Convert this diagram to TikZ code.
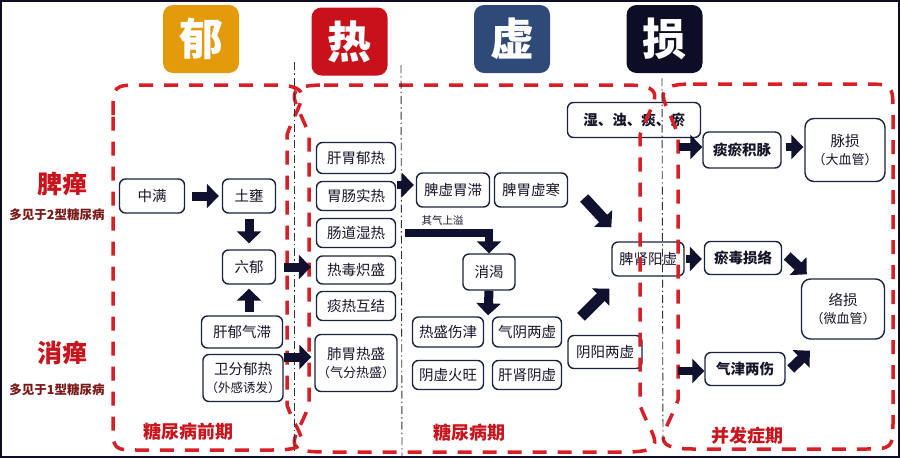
\documentclass[tikz,border=0pt]{standalone}
\usepackage{fontspec}
\setmainfont{Noto Sans CJK SC}
\usepackage{xcolor}
\usepackage{tikz}
\usetikzlibrary{arrows.meta,calc}

\definecolor{yuorange}{HTML}{E39B0C}
\definecolor{rered}{HTML}{C8111A}
\definecolor{xublue}{HTML}{2E4A78}
\definecolor{sunblack}{HTML}{0E0D26}
\definecolor{navy}{HTML}{1B2340}
\definecolor{inkc}{HTML}{16162A}
\definecolor{arrowc}{HTML}{10112E}
\definecolor{dashred}{HTML}{D61F26}
\definecolor{labred}{HTML}{C8141C}
\definecolor{notered}{HTML}{7A1818}

\begin{document}
\begin{tikzpicture}[x=1pt,y=-1pt]
			\tikzstyle{stage} = [rounded corners=10pt, text=white, font=\fontsize{44}{44}\selectfont\bfseries, minimum width=76pt, minimum height=68pt]
			\tikzstyle{state} = [draw=navy, line width=1.4pt, rounded corners=6pt, fill=white, text=inkc, font=\fontsize{14.5}{18}\selectfont, inner sep=3pt, align=center]
			\tikzstyle{bstate} = [state, font=\fontsize{14.5}{18}\selectfont\bfseries]
			\tikzstyle{disease} = [text=labred, font=\fontsize{25}{25}\selectfont\bfseries]
			\tikzstyle{note} = [text=notered, font=\fontsize{12.5}{13}\selectfont\bfseries]
			\tikzstyle{period} = [text=labred, font=\fontsize{18}{18}\selectfont\bfseries]
			\tikzstyle{phase} = [draw=dashred, line width=3.5pt, dash pattern=on 14pt off 11pt]
			\tikzstyle{divider} = [draw=black!80, line width=0.9pt, dash pattern=on 8pt off 3pt on 1.5pt off 3pt]
			\tikzset{edge/.style = {draw=arrowc, line width=9pt, -{Triangle[length=12pt,width=24pt]}}}
			
			\useasboundingbox (0,0) rectangle (900,458);
			\draw[sunblack, line width=2pt] (1,1) rectangle (899,457);
			
			\node[stage, fill=yuorange](yu) at (201,39) {郁};
			\node[stage, fill=rered](re) at (349.5,41.5) {热};
			\node[stage, fill=xublue](xu) at (512,39) {虚};
			\node[stage, fill=sunblack](sun) at (664.5,39) {损};
			
			\node[disease](pidan) at (62,184) {脾瘅};
			\node[note](pidannote) at (57,215) {多见于2型糖尿病};
			\node[disease](xiaodan) at (62,353) {消瘅};
			\node[note](xiaodannote) at (57,390) {多见于1型糖尿病};
			
			% pre-diabetes
			\node[state, minimum width=65pt, minimum height=34pt](zhongman) at (152,196) {中满};
			\node[state, minimum width=53pt, minimum height=34pt](tuyong) at (249,196) {土壅};
			\node[state, minimum width=53pt, minimum height=34pt](liuyu) at (249,267) {六郁};
			\node[state, minimum width=81pt, minimum height=32pt](ganyu) at (242,332) {肝郁气滞};
			\node[state, minimum width=80pt, minimum height=47pt, inner sep=1pt](wfyr) at (243,378) {卫分郁热\\{\fontsize{12.5}{15}\selectfont （外感诱发）}};
			
			% diabetes
			\node[state, minimum width=79pt, minimum height=31pt](gwyr) at (356,158) {肝胃郁热};
			\node[state, minimum width=79pt, minimum height=29pt](wcss) at (356,196) {胃肠实热};
			\node[state, minimum width=79pt, minimum height=29pt](cdsr) at (356,233) {肠道湿热};
			\node[state, minimum width=79pt, minimum height=28pt](rdcs) at (356,270) {热毒炽盛};
			\node[state, minimum width=79pt, minimum height=29pt](trhj) at (356,306) {痰热互结};
			\node[state, minimum width=82pt, minimum height=57pt, inner sep=1pt](fwrs) at (356,363) {肺胃热盛\\{\fontsize{13}{15}\selectfont （气分热盛）}};
			\node[state, minimum width=73pt, minimum height=34pt](pxwz) at (453,190) {脾虚胃滞};
			\node[state, minimum width=73pt, minimum height=34pt](pwxh) at (531,190) {脾胃虚寒};
			\node[state, minimum width=52pt, minimum height=36pt](xiaoke) at (489,272) {消渴};
			\node[state, minimum width=71pt, minimum height=30pt](rssj) at (448,332) {热盛伤津};
			\node[state, minimum width=69pt, minimum height=30pt](qyls) at (527,332) {气阴两虚};
			\node[state, minimum width=71pt, minimum height=29pt](yxhw) at (448,375) {阴虚火旺};
			\node[state, minimum width=69pt, minimum height=29pt](gsyx) at (527,375) {肝肾阴虚};
			\node[state, minimum width=74pt, minimum height=33pt](yyls) at (605,352) {阴阳两虚};
			\node[state, minimum width=72pt, minimum height=34pt](psyx) at (648,259) {脾肾阳虚};
			\node[bstate, minimum width=133pt, minimum height=35pt](szty) at (634,120) {湿、浊、痰、瘀};
			
			% complications
			\node[bstate, minimum width=78pt, minimum height=36pt](tyjm) at (742,150) {痰瘀积脉};
			\node[state, rounded corners=9pt, minimum width=80pt, minimum height=63pt, inner sep=1pt](maisun) at (845,150) {脉损\\{\fontsize{13}{15}\selectfont （大血管）}};
			\node[bstate, minimum width=77pt, minimum height=33pt](ydsl) at (743,258) {瘀毒损络};
			\node[state, rounded corners=9pt, minimum width=83pt, minimum height=60pt, inner sep=1pt](luosun) at (843,309) {络损\\{\fontsize{13}{15}\selectfont （微血管）}};
			\node[bstate, minimum width=80pt, minimum height=33pt](qjls) at (745,369) {气津两伤};
			
			\node[period](qianqi) at (188,432) {糖尿病前期};
			\node[period](bingqi) at (469,433) {糖尿病期};
			\node[period](bingfa) at (747,436) {并发症期};
			
			\draw[phase] (113,115) .. controls (113,85) .. (143,85) -- (272,85) .. controls (320,85) and (298,102) .. (287,135) -- (287,405) .. controls (298,437) and (320,450) .. (272,450) -- (140,450) .. controls (113,450) .. (113,423) -- cycle;
			\draw[phase] (324,85) -- (625,85) .. controls (673,85) and (651,102) .. (640,135) -- (640,405) .. controls (651,437) and (673,452) .. (625,452) -- (324,452) .. controls (276,452) and (298,437) .. (309,405) -- (309,135) .. controls (298,102) and (276,85) .. (324,85);
			\draw[phase] (693,84) -- (863,84) .. controls (893,84) .. (893,114) -- (893,419) .. controls (893,449) .. (863,449) -- (693,449) .. controls (645,449) and (667,432) .. (678,400) -- (678,135) .. controls (667,101) and (645,84) .. (693,84);
			
			\draw[divider] (294,62) -- (294,450);
			\draw[divider] (401,65) -- (402,456);
			\draw[divider] (662,78) -- (663,442);
			
			\draw[edge, shorten <=7pt, shorten >=3pt](zhongman) to (tuyong);
			\draw[edge, shorten <=5pt, shorten >=6pt](tuyong) to (liuyu);
			\draw[edge, shorten <=3pt, shorten >=4pt](liuyu.south |- ganyu.north) to (liuyu.south);
			\draw[edge, shorten <=8pt, shorten >=5pt](liuyu.east) to (liuyu.east -| rdcs.west);
			\draw[edge, shorten >=3pt]([yshift=6pt]fwrs.west -| wfyr.east) to ([yshift=6pt]fwrs.west);
			\draw[edge, line width=8pt, shorten <=1pt, shorten >=2pt]([yshift=5pt]pxwz.west -| wcss.east) to ([yshift=5pt]pxwz.west);
			\draw[edge, line width=8pt, shorten <=9pt](cdsr.east) -| node[pos=0.25, above=0pt, text=inkc, font=\fontsize{10.5}{11}\selectfont]{其气上溢} (xiaoke.north);
			\draw[edge, shorten >=1pt](xiaoke.south) to ($(rssj.north east)!0.5!(qyls.north west)$);
			\draw[edge, line width=11pt]($(pwxh.east)+(16,8)$) to ($(psyx.north west)+(0,-14)$);
			\draw[edge, line width=11pt]($(yyls.north)+(-24,-18)$) to ($(psyx.south west)+(-2,12)$);
			
			\coordinate (tyjmin) at ($(tyjm.west)+(-23,-3)$);
			\coordinate (qjlsin) at ($(qjls.west)+(-26,2)$);
			\draw[edge, line width=8pt](tyjmin) to ([yshift=3pt]tyjm.west);
			\draw[edge, line width=8pt, shorten <=1pt, shorten >=2pt](psyx.east) to (psyx.east -| ydsl.west);
			\draw[edge, line width=8pt](qjlsin) to ([yshift=-2pt]qjls.west);
			\draw[edge, line width=8pt, shorten <=4pt, shorten >=1pt]([yshift=3pt]tyjm.east) to ([yshift=3pt]tyjm.east -| maisun.west);
			\draw[edge, line width=10pt]($(ydsl.east)+(5,-2)$) to ($(luosun.north west)+(6,-4)$);
			\draw[edge, line width=10pt]($(qjls.east)+(5,0)$) to ($(luosun.south west)+(9,11)$);
			
\end{tikzpicture}
\end{document}
